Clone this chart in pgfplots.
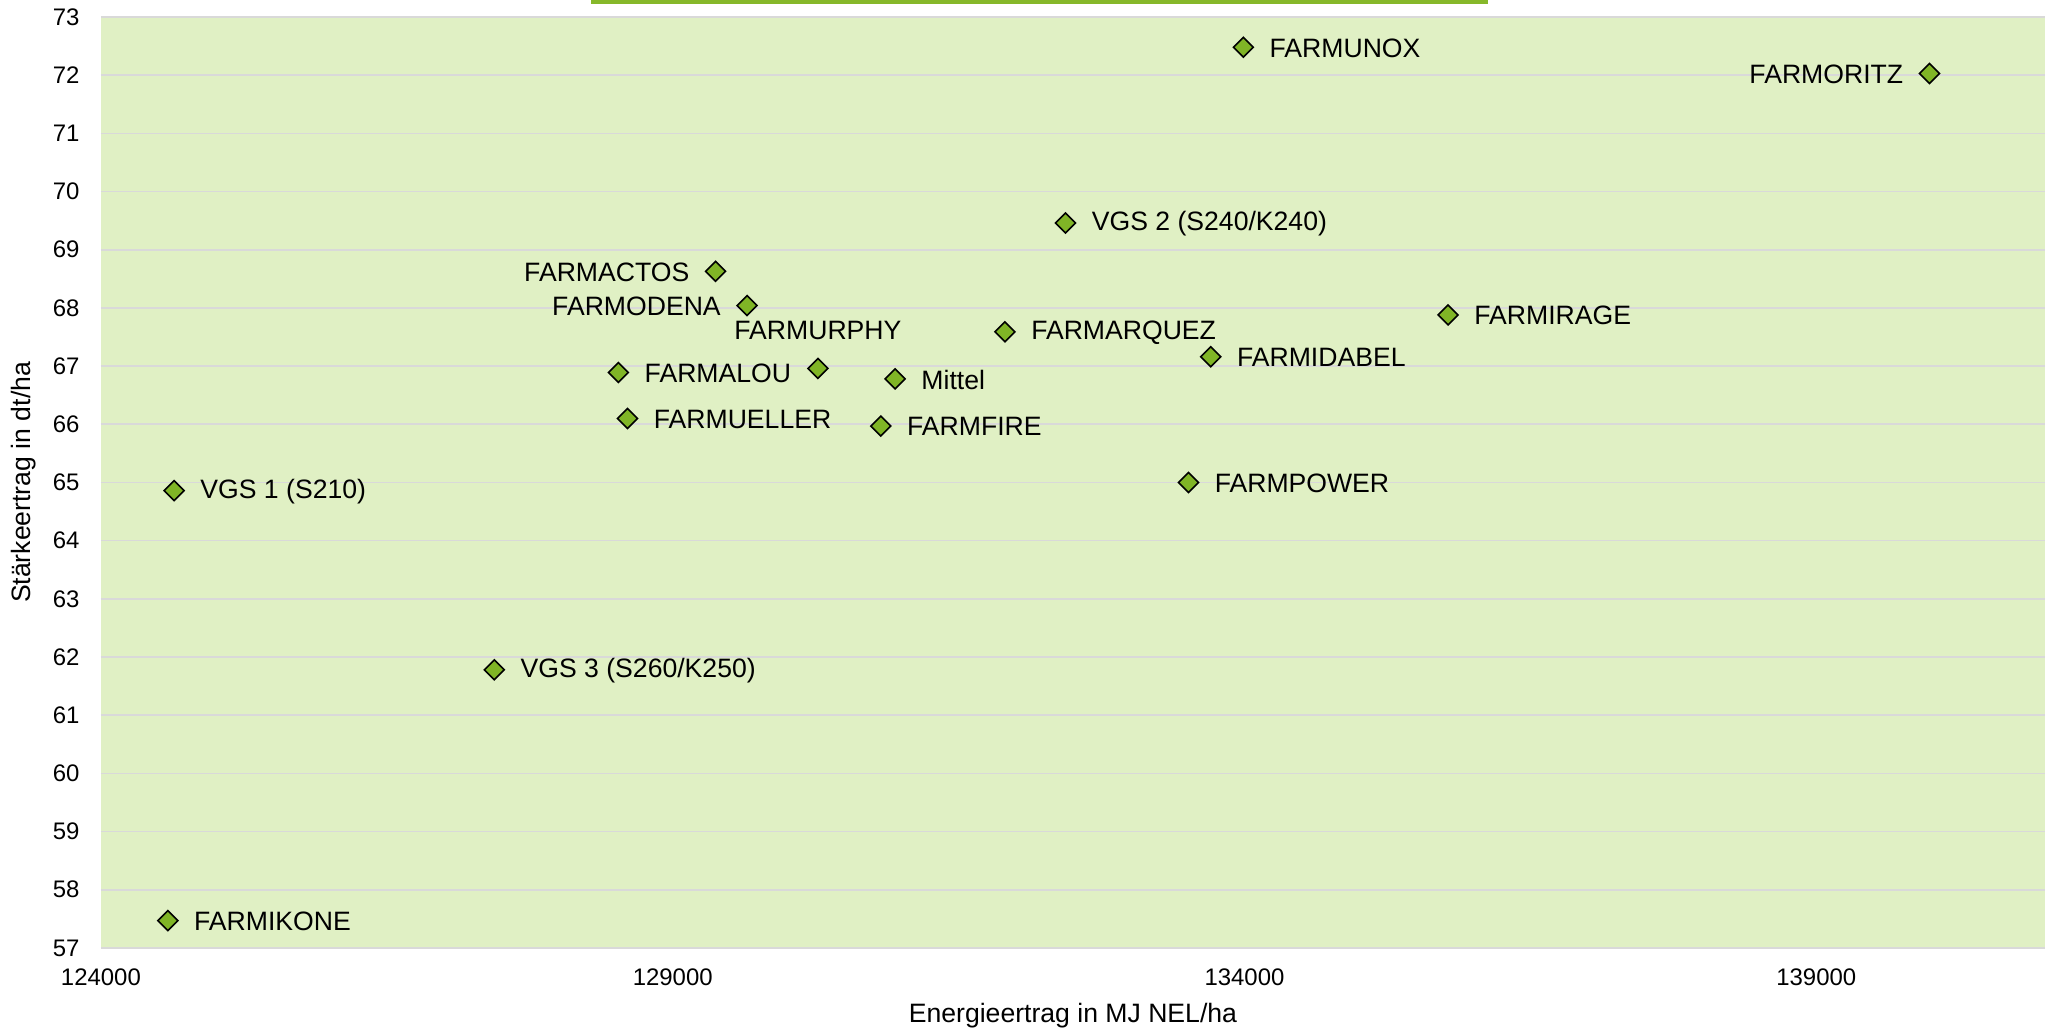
\documentclass[border=0pt]{standalone}
\usepackage{pgfplots}
\pgfplotsset{compat=1.18}
\usepackage{pgfplotstable}
\usepackage{fontspec}
\setmainfont{Liberation Sans}
\definecolor{bg}{RGB}{224,240,196}
\definecolor{mk}{RGB}{128,181,38}
\definecolor{topbar}{RGB}{134,184,42}
\definecolor{gridc}{RGB}{217,217,217}

% labels to the right of the marker
\pgfplotstableread[col sep=comma]{
x,y,label
133990,72.48,FARMUNOX
132435,69.46,VGS 2 (S240/K240)
135780,67.88,FARMIRAGE
131905,67.59,FARMARQUEZ
133705,67.16,FARMIDABEL
128525,66.89,FARMALOU
130945,66.78,Mittel
128605,66.10,FARMUELLER
130820,65.97,FARMFIRE
133510,65.00,FARMPOWER
124640,64.86,VGS 1 (S210)
127440,61.78,VGS 3 (S260/K250)
124585,57.47,FARMIKONE
}\dataright
% labels to the left of the marker
\pgfplotstableread[col sep=comma]{
x,y,label
139990,72.03,FARMORITZ
129375,68.63,FARMACTOS
129650,68.04,FARMODENA
}\dataleft
% label above the marker
\pgfplotstableread[col sep=comma]{
x,y,label
130270,66.96,FARMURPHY
}\dataabove

\pgfplotsset{
  pts/.style={
    only marks,
    mark=square*,
    mark size=2.65pt,
    mark options={rotate=45, fill=mk, draw=black, line width=0.6pt},
    point meta=explicit symbolic,
    nodes near coords,
  },
}

\begin{document}
\begin{tikzpicture}
\useasboundingbox (0,0) rectangle (773pt,387.2pt);
\begin{axis}[
  at={(37.95pt,30.8pt)}, anchor=south west,
  scale only axis, width=730.9pt, height=350pt,
  xmin=124000, xmax=141000, ymin=57, ymax=73,
  xtick={124000,129000,134000,139000},
  ytick={57,58,...,73},
  scaled x ticks=false,
  /pgf/number format/.cd, 1000 sep={}, fixed, assume math mode=true,
  /pgfplots/.cd,
  axis line style={draw=none},
  tick style={draw=none},
  ymajorgrids,
  major grid style={draw=gridc, line width=0.6pt},
  axis background/.style={fill=bg},
  tick label style={font=\fontsize{9}{11}\selectfont},
  xticklabel style={anchor=north, inner sep=0pt, yshift=-7.6pt},
  yticklabel style={anchor=east, inner sep=0pt, xshift=-7.9pt},
  xlabel={Energieertrag in MJ NEL/ha},
  ylabel={Stärkeertrag in dt/ha},
  label style={font=\fontsize{10}{12}\selectfont},
  every axis x label/.style={at={(rel axis cs:0.5,0)}, anchor=center, yshift=-25.6pt},
  every axis y label/.style={at={(rel axis cs:0,0.5)}, xshift=-29pt, anchor=center, rotate=90},
  clip=false,
]
\addplot[pts, every node near coord/.append style={anchor=west, inner xsep=9.6pt, inner ysep=0pt, yshift=-0.3pt, font=\fontsize{10}{12}\selectfont, text=black}]
  table[x=x, y=y, meta=label] {\dataright};
\addplot[pts, every node near coord/.append style={anchor=east, inner xsep=9.6pt, inner ysep=0pt, yshift=-0.3pt, font=\fontsize{10}{12}\selectfont, text=black}]
  table[x=x, y=y, meta=label] {\dataleft};
\addplot[pts, every node near coord/.append style={anchor=south, inner xsep=0pt, inner ysep=10.4pt, font=\fontsize{10}{12}\selectfont, text=black}]
  table[x=x, y=y, meta=label] {\dataabove};
\end{axis}
\fill[topbar] (222.3pt,385.7pt) rectangle (559.4pt,387.2pt);
\end{tikzpicture}
\end{document}
